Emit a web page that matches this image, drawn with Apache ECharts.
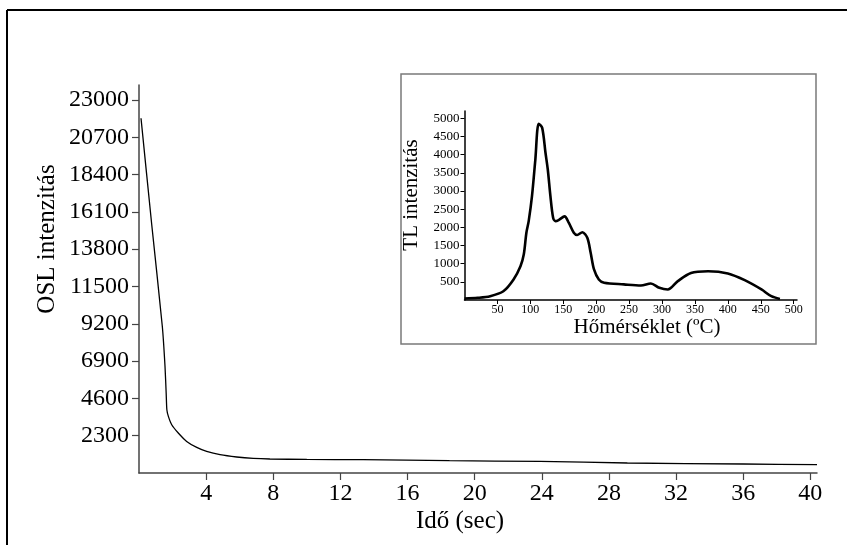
<!DOCTYPE html>
<html>
<head>
<meta charset="utf-8">
<script src="https://cdn.jsdelivr.net/npm/echarts@6/dist/echarts.min.js"></script>
<style>
  html, body { margin: 0; padding: 0; background: #fff; }
  #chart { width: 847px; height: 545px; }
</style>
</head>
<body>
<div id="chart"></div>
<script>
// OSL decay curve (main chart)
const oslTime = [0.12, 0.75, 1.39, 1.55, 1.62, 1.66, 1.75, 1.95, 2.34, 2.84, 3.44, 4.03, 4.83, 5.82, 6.81, 7.8, 10, 13.35, 18.5, 23.9, 29.1, 36, 40.4];
const oslValue = [21870, 15400, 9030, 6570, 4900, 3900, 3490, 2976, 2464, 1947, 1577, 1331, 1127, 986, 900, 862, 835, 820, 758, 715, 616, 554, 511];
const oslXTicks = [4, 8, 12, 16, 20, 24, 28, 32, 36, 40];
const oslYTicks = [2300, 4600, 6900, 9200, 11500, 13800, 16100, 18400, 20700, 23000];

// TL glow curve (inset)
const tlTemp = [0, 20, 39, 59, 74.5, 85, 90, 94, 97.5, 102.5, 107.6, 112.7, 118, 123, 126.5, 130.5, 134.6, 138, 143, 152, 158.5, 166, 171, 179, 186.5, 191.6, 196.7, 204, 212, 242, 268, 283, 296, 308.7, 324, 344, 370, 400, 425.6, 451, 466, 479];
const tlValue = [40, 60, 105, 240, 565, 930, 1250, 1850, 2170, 2855, 3865, 4850, 4735, 4050, 3590, 2855, 2260, 2170, 2200, 2300, 2120, 1850, 1790, 1865, 1710, 1300, 840, 565, 475, 430, 400, 455, 335, 290, 520, 745, 790, 730, 545, 290, 105, 30];
const tlXTicks = [50, 100, 150, 200, 250, 300, 350, 400, 450, 500];
const tlYTicks = [500, 1000, 1500, 2000, 2500, 3000, 3500, 4000, 4500, 5000];

const serif = 'Liberation Serif';
const plain = v => String(v);
const chart = echarts.init(document.getElementById('chart'));

const option = {
  animation: false,
  backgroundColor: '#fff',
  grid: [
    { left: 139, top: 85, right: 30, bottom: 72 },   // main
    { left: 464.5, top: 111, right: 50, bottom: 245 } // inset
  ],
  xAxis: [
    {
      type: 'value', gridIndex: 0, min: 0, max: 40.4,
      splitLine: { show: false },
      axisLine: { lineStyle: { color: '#444', width: 1.5 } },
      axisTick: { length: 7, lineStyle: { color: '#444', width: 1.2 }, customValues: oslXTicks },
      axisLabel: { customValues: oslXTicks, formatter: plain, margin: 9, color: '#000', fontFamily: serif, fontSize: 24 }
    },
    {
      type: 'value', gridIndex: 1, min: 0, max: 505,
      splitLine: { show: false },
      axisLine: { lineStyle: { color: '#000', width: 1.5 } },
      axisTick: { length: 4, lineStyle: { color: '#000', width: 1 }, customValues: tlXTicks },
      axisLabel: { customValues: tlXTicks, formatter: plain, margin: 4, color: '#000', fontFamily: serif, fontSize: 12 }
    }
  ],
  yAxis: [
    {
      type: 'value', gridIndex: 0, min: 0, max: 23920,
      splitLine: { show: false },
      axisLine: { show: true, lineStyle: { color: '#444', width: 1.5 } },
      axisTick: { show: true, length: 7, lineStyle: { color: '#444', width: 1.2 }, customValues: oslYTicks },
      axisLabel: { customValues: oslYTicks, formatter: plain, margin: 10, color: '#000', fontFamily: serif, fontSize: 24 }
    },
    {
      type: 'value', gridIndex: 1, min: 0, max: 5200,
      splitLine: { show: false },
      axisLine: { show: true, lineStyle: { color: '#000', width: 1.5 } },
      axisTick: { show: true, length: 4, lineStyle: { color: '#000', width: 1 }, customValues: tlYTicks },
      axisLabel: { customValues: tlYTicks, formatter: plain, margin: 5, color: '#000', fontFamily: serif, fontSize: 13 }
    }
  ],
  graphic: [
    { type: 'line', z: 100, shape: { x1: 7, y1: 10, x2: 847, y2: 10 }, style: { stroke: '#000', lineWidth: 2 } },
    { type: 'line', z: 100, shape: { x1: 7, y1: 10, x2: 7, y2: 545 }, style: { stroke: '#000', lineWidth: 2 } },
    { type: 'rect', z: -10, shape: { x: 401, y: 74, width: 415, height: 270 }, style: { fill: '#fff', stroke: '#7a7a7a', lineWidth: 1.5 } },
    { type: 'text', x: 47, y: 239, rotation: Math.PI / 2, style: { text: 'OSL intenzitás', fontFamily: serif, fontSize: 25, fill: '#000', align: 'center', verticalAlign: 'middle' } },
    { type: 'text', x: 460, y: 521, style: { text: 'Idő (sec)', fontFamily: serif, fontSize: 25, fill: '#000', align: 'center', verticalAlign: 'middle' } },
    { type: 'text', x: 411, y: 195, rotation: Math.PI / 2, style: { text: 'TL intenzitás', fontFamily: serif, fontSize: 21, fill: '#000', align: 'center', verticalAlign: 'middle' } },
    { type: 'text', x: 647, y: 327, style: { text: 'Hőmérséklet (ºC)', fontFamily: serif, fontSize: 21, fill: '#000', align: 'center', verticalAlign: 'middle' } }
  ],
  series: [
    {
      type: 'line', xAxisIndex: 0, yAxisIndex: 0,
      data: oslTime.map((t, i) => [t, oslValue[i]]),
      showSymbol: false, smooth: 0.2,
      lineStyle: { color: '#000', width: 1.3 }
    },
    {
      type: 'line', xAxisIndex: 1, yAxisIndex: 1,
      data: tlTemp.map((t, i) => [t, tlValue[i]]),
      showSymbol: false, smooth: 0.3,
      lineStyle: { color: '#000', width: 2.6 }
    }
  ]
};

chart.setOption(option);
</script>
</body>
</html>
